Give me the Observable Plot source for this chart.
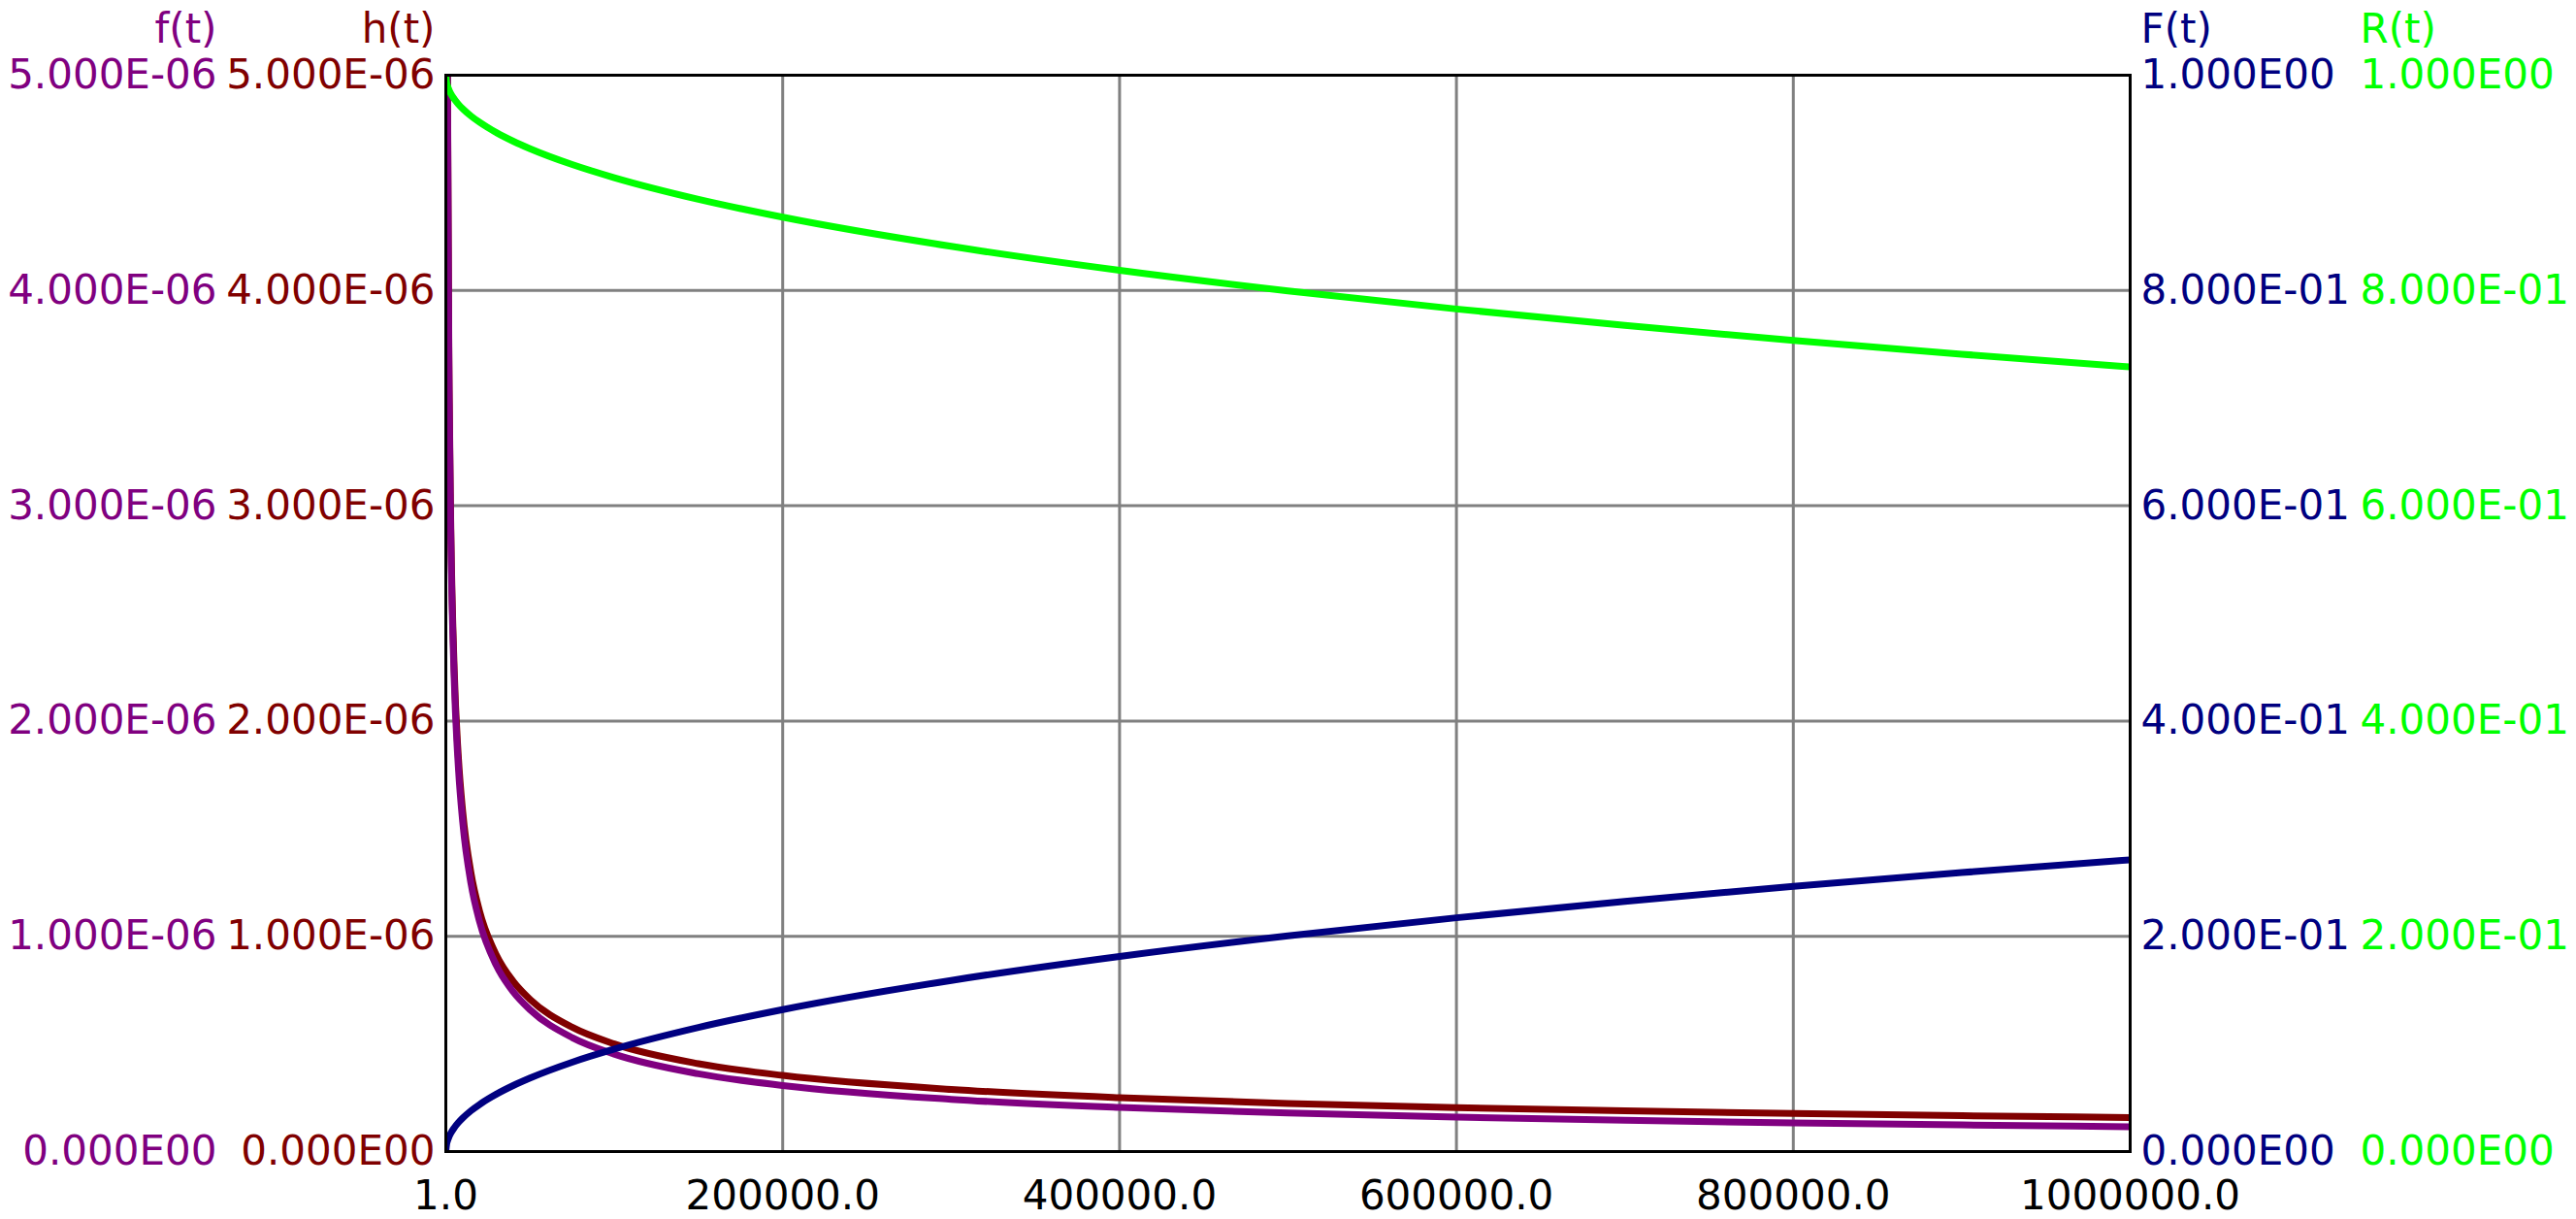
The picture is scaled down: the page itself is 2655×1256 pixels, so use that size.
<!DOCTYPE html>
<html>
<head>
<meta charset="utf-8">
<script src="https://cdn.jsdelivr.net/npm/d3@7"></script>
<script src="https://cdn.jsdelivr.net/npm/@observablehq/plot@0.6"></script>
<style>
  html, body { margin: 0; padding: 0; background: #fff; overflow: hidden; }
  #chart svg { display: block; }
</style>
</head>
<body>
<div id="chart"></div>
<script>
// ---- data ----
const tValues = [1, 500, 1000, 2000, 3000, 5000, 7500, 10000, 15000, 20000, 30000, 40000, 50000, 75000, 100000, 150000, 200000, 300000, 400000, 500000, 600000, 700000, 800000, 900000, 1000000];
// h(t) and f(t) in units of 1E-06
const hValues = [158.1, 7.071, 5.000, 3.536, 2.887, 2.236, 1.826, 1.581, 1.291, 1.118, 0.9129, 0.7906, 0.7071, 0.5774, 0.5000, 0.4082, 0.3536, 0.2887, 0.2500, 0.2236, 0.2041, 0.1890, 0.1768, 0.1667, 0.1581];
const fValues = [158.1, 7.021, 4.950, 3.486, 2.837, 2.187, 1.777, 1.532, 1.242, 1.069, 0.8643, 0.7421, 0.6588, 0.5295, 0.4524, 0.3612, 0.3069, 0.2428, 0.2047, 0.1788, 0.1598, 0.1451, 0.1332, 0.1235, 0.1152];
const RValues = [0.9997, 0.9930, 0.9900, 0.9860, 0.9828, 0.9779, 0.9730, 0.9689, 0.9620, 0.9563, 0.9467, 0.9387, 0.9317, 0.9170, 0.9048, 0.8847, 0.8681, 0.8410, 0.8187, 0.7996, 0.7828, 0.7675, 0.7536, 0.7408, 0.7289];
const FValues = [0.0003, 0.0070, 0.0100, 0.0140, 0.0172, 0.0221, 0.0270, 0.0311, 0.0380, 0.0437, 0.0533, 0.0613, 0.0683, 0.0830, 0.0952, 0.1153, 0.1319, 0.1590, 0.1813, 0.2004, 0.2172, 0.2325, 0.2464, 0.2592, 0.2711];

const hfMax = 5; // top of left axes, in 1E-06
const xTicks = [1, 200000, 400000, 600000, 800000, 1000000];
const xTickLabels = ["1.0", "200000.0", "400000.0", "600000.0", "800000.0", "1000000.0"];
const yTicks = [0, 0.2, 0.4, 0.6, 0.8, 1.0];
const fTickLabels = ["0.000E00", "1.000E-06", "2.000E-06", "3.000E-06", "4.000E-06", "5.000E-06"];
const hTickLabels = ["0.000E00", "1.000E-06", "2.000E-06", "3.000E-06", "4.000E-06", "5.000E-06"];
const FTickLabels = ["0.000E00", "2.000E-01", "4.000E-01", "6.000E-01", "8.000E-01", "1.000E00"];
const RTickLabels = ["0.000E00", "2.000E-01", "4.000E-01", "6.000E-01", "8.000E-01", "1.000E00"];

const colors = { f: "#800080", h: "#800000", F: "#000080", R: "#00ff00" };

const rows = tValues.map((t, i) => ({
  t, h: hValues[i], f: fValues[i], R: RValues[i], F: FValues[i]
}));

const W = 2655, H = 1256;
const ML = 459, MR = 460, MT = 77, MB = 70;
const FS = 42;
const padNear = 11, padFar = 236;
const LW = 7;

const axisCommon = { tickSize: 0, fontSize: FS };

const chart = Plot.plot({
  width: W,
  height: H,
  marginLeft: ML, marginRight: MR, marginTop: MT, marginBottom: MB,
  style: { fontFamily: "DejaVu Sans", fontSize: FS + "px", background: "#fff" },
  x: { domain: [1, 1000000] },
  y: { domain: [0, 1] },
  marks: [
    Plot.gridX(xTicks, { stroke: "#808080", strokeOpacity: 1, strokeWidth: 3 }),
    Plot.gridY(yTicks, { stroke: "#808080", strokeOpacity: 1, strokeWidth: 3 }),
    Plot.axisX(xTicks, { ...axisCommon, tickPadding: 30, tickFormat: (d, i) => xTickLabels[i], color: "#000", label: null }),
    Plot.axisY(yTicks, { ...axisCommon, anchor: "left", tickPadding: padNear, tickFormat: (d, i) => hTickLabels[i], color: colors.h, label: null }),
    Plot.axisY(yTicks, { ...axisCommon, anchor: "left", tickPadding: padFar, tickFormat: (d, i) => fTickLabels[i], color: colors.f, label: null }),
    Plot.axisY(yTicks, { ...axisCommon, anchor: "right", tickPadding: padNear, tickFormat: (d, i) => FTickLabels[i], color: colors.F, label: null }),
    Plot.axisY(yTicks, { ...axisCommon, anchor: "right", tickPadding: padFar + 1, tickFormat: (d, i) => RTickLabels[i], color: colors.R, label: null }),
    Plot.text(["h(t)"], { frameAnchor: "top-left", dx: -padNear, dy: -34, textAnchor: "end", lineAnchor: "bottom", fill: colors.h, fontSize: FS }),
    Plot.text(["f(t)"], { frameAnchor: "top-left", dx: -padFar, dy: -34, textAnchor: "end", lineAnchor: "bottom", fill: colors.f, fontSize: FS }),
    Plot.text(["F(t)"], { frameAnchor: "top-right", dx: padNear, dy: -34, textAnchor: "start", lineAnchor: "bottom", fill: colors.F, fontSize: FS }),
    Plot.text(["R(t)"], { frameAnchor: "top-right", dx: padFar + 1, dy: -34, textAnchor: "start", lineAnchor: "bottom", fill: colors.R, fontSize: FS }),
    Plot.line(rows, { x: "t", y: d => d.h / hfMax, stroke: colors.h, strokeWidth: LW, curve: "monotone-x", clip: true }),
    Plot.line(rows, { x: "t", y: d => d.f / hfMax, stroke: colors.f, strokeWidth: LW, curve: "monotone-x", clip: true }),
    Plot.line(rows, { x: "t", y: "F", stroke: colors.F, strokeWidth: LW, curve: "monotone-x", clip: true }),
    Plot.line(rows, { x: "t", y: "R", stroke: colors.R, strokeWidth: LW, curve: "monotone-x", clip: true }),
    Plot.frame({ stroke: "#000", strokeWidth: 3 })
  ]
});

document.getElementById("chart").appendChild(chart);
</script>
</body>
</html>
